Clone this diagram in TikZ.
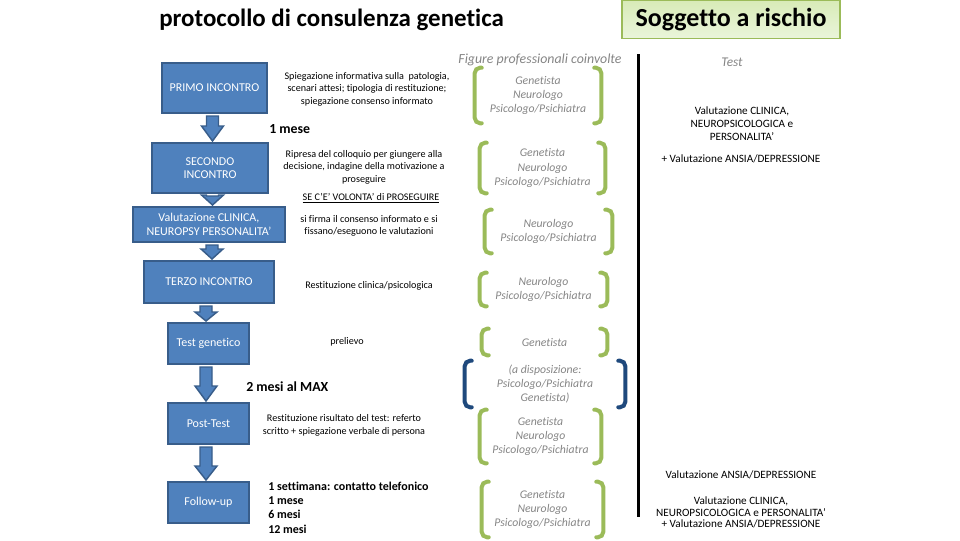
\documentclass[tikz,border=0pt]{standalone}
\usepackage{fontspec}
\setmainfont{Carlito}[Ligatures={TeX,NoCommon}]
\usetikzlibrary{calc}
\definecolor{boxfill}{HTML}{4F81BD}
\definecolor{boxline}{HTML}{385D8A}
\definecolor{grn}{HTML}{9BBB59}
\definecolor{dkblue}{HTML}{1F497D}
\definecolor{txtgray}{HTML}{858585}
\definecolor{sogA}{HTML}{D8EBB8}
\definecolor{sogB}{HTML}{EAF5DA}
\newcommand\blockarr[4]{%
  \draw[barrow] let \p1=($(#1.south)+(#3,2)$), \p2=($(#2.north)+(#3,-1)$) in
    (\x1-4.5pt,\y1) -- (\x1+4.5pt,\y1) -- (\x1+4.5pt,\y2+#4*0.75pt) --
    (\x1+8.25pt,\y2+#4*0.75pt) -- (\x1,\y2) -- (\x1-8.25pt,\y2+#4*0.75pt) --
    (\x1-4.5pt,\y2+#4*0.75pt) -- cycle;}
\newcommand\brackets[2]{%
  \draw[brkline,#2] ($(#1.north west)+(7,0)$) -- (#1.north west) -- (#1.south west) -- ($(#1.south west)+(7,0)$);
  \draw[brkline,#2] ($(#1.north east)+(-7,0)$) -- (#1.north east) -- (#1.south east) -- ($(#1.south east)+(-7,0)$);}
\begin{document}
\begin{tikzpicture}[x=0.75pt,y=-0.75pt,
  stepbox/.style={draw=boxline, line width=1.5pt, fill=boxfill, text=white, align=center,
    inner sep=0pt, font=\fontsize{9}{10}\selectfont},
  barrow/.style={draw=boxline, line width=1.1pt, fill=boxfill, line join=miter},
  note/.style={align=center, inner sep=0pt, font=\fontsize{7.6}{9.4}\selectfont},
  boldnote/.style={anchor=west, inner sep=0pt, font=\fontsize{10.4}{12}\selectfont\bfseries},
  grp/.style={align=center, inner sep=0pt, text=txtgray, font=\fontsize{8.8}{10.8}\selectfont\itshape},
  brkline/.style={line width=3pt, rounded corners=4pt, line cap=round},
  rtnote/.style={align=center, inner sep=0pt, font=\fontsize{8.4}{10}\selectfont}]
\useasboundingbox (0,0) rectangle (960,540);

% title and header
\node[anchor=west, inner sep=0pt, font=\fontsize{18.7}{22}\selectfont\bfseries] (title) at (159,20) {protocollo di consulenza genetica};
\node[draw=grn, line width=0.8pt, top color=sogA, bottom color=sogB, minimum width=163.5pt, minimum height=28.5pt,
  inner sep=0pt, font=\fontsize{19.5}{22}\selectfont\bfseries] (sogg) at (731,19.5) {Soggetto a rischio};
\node[grp, font=\fontsize{10.4}{12}\selectfont\itshape] (figtitle) at (540,60) {Figure professionali coinvolte};
\node[grp, font=\fontsize{10}{12}\selectfont\itshape] (testtitle) at (732,62) {Test};

% left column steps
\node[stepbox, minimum width=78.75pt, minimum height=37.5pt] (s1) at (214.5,88) {PRIMO INCONTRO};
\node[stepbox, minimum width=87pt, minimum height=37.5pt] (s2) at (210,168) {SECONDO\\INCONTRO};
\node[stepbox, minimum width=114pt, minimum height=26.25pt] (s3) at (209,224.5) {Valutazione CLINICA,\\NEUROPSY PERSONALITA'};
\node[stepbox, minimum width=97.5pt, minimum height=31.5pt] (s4) at (209,282) {TERZO INCONTRO};
\node[stepbox, minimum width=60.75pt, minimum height=30.75pt] (s5) at (208.5,343.5) {Test genetico};
\node[stepbox, minimum width=60.75pt, minimum height=30.75pt] (s6) at (208.5,423.5) {Post-Test};
\node[stepbox, minimum width=60.75pt, minimum height=30.75pt] (s7) at (208.5,502.5) {Follow-up};

\blockarr{s1}{s2}{-2}{15}
\blockarr{s2}{s3}{2.5}{10}
\blockarr{s3}{s4}{3}{10}
\blockarr{s4}{s5}{-3}{9}
\blockarr{s5}{s6}{-2.5}{15}
\blockarr{s6}{s7}{-2.5}{14}

% middle descriptions
\node[note] (d1) at (367,89) {Spiegazione informativa sulla\ \ patologia,\\scenari attesi; tipologia di restituzione;\\spiegazione consenso informato};
\node[boldnote] (m1) at (269,129) {1 mese};
\node[note] (d2) at (364,167) {Ripresa del colloquio per giungere alla\\decisione, indagine della motivazione a\\proseguire};
\node[note] (d3) at (371,198) {\underline{SE C'E' VOLONTA' di PROSEGUIRE}};
\node[note] (d4) at (369,226) {si firma il consenso informato e si\\fissano/eseguono le valutazioni};
\node[note] (d5) at (369,286) {Restituzione clinica/psicologica};
\node[note] (d6) at (347,342) {prelievo};
\node[boldnote] (m2) at (246,387) {2 mesi al MAX};
\node[note] (d7) at (344,425.5) {Restituzione risultato del test: referto\\scritto + spiegazione verbale di persona};
\node[anchor=west, align=left, inner sep=0pt, font=\fontsize{9}{10.7}\selectfont\bfseries] (d8) at (268,507.5)
  {1 settimana: contatto telefonico\\1 mese\\6 mesi\\12 mesi};

% professional groups
\node[grp, minimum width=94.5pt, minimum height=41.25pt] (g1) at (538,95.5) {Genetista\\Neurologo\\Psicologo/Psichiatra};
\node[grp, minimum width=93.75pt, minimum height=37.5pt] (g2) at (542.5,168) {Genetista\\Neurologo\\Psicologo/Psichiatra};
\node[grp, minimum width=95.25pt, minimum height=32.25pt] (g3) at (548.5,231.5) {Neurologo\\Psicologo/Psichiatra};
\node[grp, minimum width=95.25pt, minimum height=24.75pt] (g4) at (543.5,289.5) {Neurologo\\Psicologo/Psichiatra};
\node[grp, minimum width=93.75pt, minimum height=19.5pt] (g5) at (544.5,342) {Genetista};
\node[grp, minimum width=120pt, minimum height=34.5pt] (gb) at (545,384) {(a disposizione:\\Psicologo/Psichiatra\\Genetista)};
\node[grp, minimum width=90.75pt, minimum height=39.75pt] (g6) at (540.5,436.5) {Genetista\\Neurologo\\Psicologo/Psichiatra};
\node[grp, minimum width=90.75pt, minimum height=41.25pt] (g7) at (542.5,509.5) {Genetista\\Neurologo\\Psicologo/Psichiatra};
\brackets{g1}{grn}
\brackets{g2}{grn}
\brackets{g3}{grn}
\brackets{g4}{grn}
\brackets{g5}{grn}
\brackets{gb}{dkblue}
\brackets{g6}{grn}
\brackets{g7}{grn}

% separator
\coordinate (septop) at (638.5,54);
\coordinate (sepbot) at (638.5,517);
\draw[line width=2.25pt] (septop) -- (sepbot);

% tests column
\node[rtnote] (t1) at (742,123.5) {Valutazione CLINICA,\\NEUROPSICOLOGICA e\\PERSONALITA'};
\node[rtnote] (t2) at (741,159) {+ Valutazione ANSIA/DEPRESSIONE};
\node[rtnote] (t3) at (741,475) {Valutazione ANSIA/DEPRESSIONE};
\node[rtnote, font=\fontsize{8.4}{8.7}\selectfont] (t4) at (741,512.5) {Valutazione CLINICA,\\NEUROPSICOLOGICA e PERSONALITA'\\+ Valutazione ANSIA/DEPRESSIONE};
\end{tikzpicture}
\end{document}
